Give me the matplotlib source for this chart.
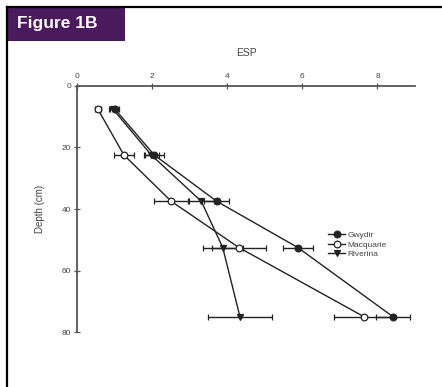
import matplotlib.pyplot as plt
from matplotlib.lines import Line2D
from matplotlib.patches import Rectangle

# --- data -------------------------------------------------------------------
depth = [7.5, 22.5, 37.5, 52.5, 75]

gwydir = [1.0, 2.06, 3.72, 5.88, 8.42]
gwydir_err = [0.12, 0.25, 0.33, 0.40, 0.45]

macquarie = [0.55, 1.25, 2.51, 4.31, 7.65]
macquarie_err = [0.08, 0.27, 0.47, 0.72, 0.80]

riverina = [0.95, 1.98, 3.31, 3.88, 4.34]
riverina_err = [0.10, 0.20, 0.35, 0.53, 0.86]

series_names = ["Gwydir", "Macquarie", "Riverina"]
x_ticks = [0, 2, 4, 6, 8]
y_ticks = [0, 20, 40, 60, 80]

LINE = "#222222"
AXIS = "#555555"
TEXT = "#444444"
PURPLE = "#4B1A5B"

plt.rcParams["font.family"] = ["Liberation Sans", "DejaVu Sans"]

fig = plt.figure(figsize=(4.42, 3.87), dpi=100)

# panel frame: top and left rules plus the purple title tab
fig.add_artist(Line2D([7 / 442, 1], [1 - 6.5 / 387] * 2, color="black", lw=1.6,
                      transform=fig.transFigure))
fig.add_artist(Line2D([7.5 / 442] * 2, [0, 1 - 6.5 / 387], color="black", lw=1.6,
                      transform=fig.transFigure))
fig.add_artist(Rectangle((7 / 442, 1 - 41 / 387), 118 / 442, 35 / 387,
                         facecolor=PURPLE, edgecolor="none", transform=fig.transFigure))
fig.text(17 / 442, 1 - 23.5 / 387, "Figure 1B", color="white", fontsize=12.5,
         fontweight="bold", va="center", ha="left")

ax = fig.add_axes([77 / 442, 1 - 332.3 / 387, 338 / 442, 246.6 / 387])

style = dict(color=LINE, lw=1.0, capsize=2.5, elinewidth=1.0, capthick=1.0,
             markersize=4.8, markeredgecolor=LINE, markeredgewidth=0.9)
markers = [("o", LINE), ("o", "white"), ("v", LINE)]
values = [gwydir, macquarie, riverina]
errors = [gwydir_err, macquarie_err, riverina_err]

handles = []
for vals, errs, (mk, face), name in zip(values, errors, markers, series_names):
    ax.errorbar(vals, depth, xerr=errs, marker=mk, markerfacecolor=face, **style)
    handles.append(Line2D([], [], color=LINE, lw=1.0, marker=mk, markerfacecolor=face,
                          markeredgecolor=LINE, markersize=4.8, markeredgewidth=0.9,
                          label=name))

ax.set_xlim(0, 9.0)
ax.set_ylim(80, 0)
ax.set_xticks(x_ticks)
ax.set_yticks(y_ticks)
ax.xaxis.tick_top()
ax.xaxis.set_label_position("top")
for side in ("right", "bottom"):
    ax.spines[side].set_visible(False)
for side in ("top", "left"):
    ax.spines[side].set_color(AXIS)
    ax.spines[side].set_linewidth(1.3)
ax.tick_params(direction="inout", length=4, width=0.9, color=AXIS,
               labelsize=6, labelcolor=TEXT, pad=2)
ax.set_xlabel("ESP", fontsize=7.5, color=TEXT, labelpad=12)
ax.set_ylabel("Depth (cm)", fontsize=7, color=TEXT, labelpad=12)

ax.legend(handles=handles, loc="upper left", bbox_to_anchor=(325 / 442, 1 - 228 / 387),
          bbox_transform=fig.transFigure, frameon=False, fontsize=6,
          handlelength=2.0, handletextpad=0.3, labelspacing=0.2,
          borderaxespad=0, labelcolor=TEXT)

fig.savefig("out.png", dpi=100)
